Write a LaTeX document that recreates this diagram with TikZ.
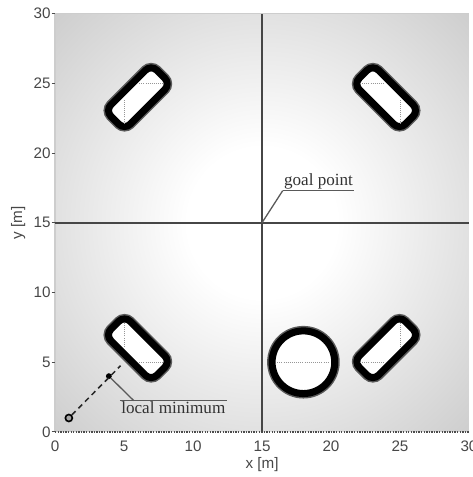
\documentclass[tikz,border=0pt]{standalone}
\usepackage{fontspec}
\setmainfont{Liberation Serif}
\setsansfont{Liberation Sans}
\usetikzlibrary{positioning, calc}
\definecolor{axisgray}{RGB}{70,70,70}
\definecolor{framegray}{RGB}{205,205,205}
\definecolor{dotgray}{RGB}{150,150,150}
\definecolor{haloblack}{RGB}{90,90,90}
\pgfdeclareradialshading{fieldshade}{\pgfpoint{0bp}{0bp}}{color(0bp)=(white); color(9bp)=(white); color(50bp)=(black!30); color(71bp)=(black!43)}

\begin{document}
\begin{tikzpicture}[
    x=0.414cm, y=0.4185cm,
    obstacle/.style={draw=black, line width=6pt, fill=white, inner sep=0pt,
        preaction={draw=haloblack, line width=8.5pt}},
    rectobst/.style={obstacle, rectangle, rounded corners=2.4mm, minimum width=1.95cm, minimum height=0.82cm},
    circobst/.style={obstacle, circle, minimum size=1.88cm},
    centerline/.style={densely dotted, dotgray, line width=0.8pt},
    crossline/.style={axisgray, line width=1.6pt},
    notelbl/.style={font=\fontsize{14.6}{16}\selectfont, text=black!80, inner sep=1pt},
    leader/.style={black!65, line width=1.1pt},
    ticklbl/.style={font=\sffamily\fontsize{13}{15}\selectfont, text=black!72, inner sep=0pt},
    trail/.style={black!85, line width=1.3pt, dash pattern=on 4.5pt off 3.5pt}
]
\useasboundingbox (-3.99,-3.23) rectangle (30.29,30.97);

% Potential field
\path[shading=fieldshade] (0,0) rectangle (30,30);

% Frame and ticks
\draw[framegray, line width=1pt] (0,30) -- (30,30);
\draw[framegray, line width=1pt] (0,0) -- (0,30);
\draw[black!70, line width=1.2pt, densely dotted] (0,0) -- (30,0);
\foreach \v in {0,5,...,30} {
    \draw[black!70, line width=0.8pt] (-0.25,\v) -- (0,\v);
    \node[ticklbl, anchor=east] at (-0.3,\v) {\v};
    \node[ticklbl, anchor=north] at (\v,-0.6) {\v};
}
\node (xlbl) [ticklbl] at (15,-2.37) {x [m]};
\node (ylbl) [ticklbl, rotate=90] at (-2.68,15) {y [m]};

% Goal cross
\coordinate (goal) at (15,15);
\draw[crossline] (15,0) -- (15,30);
\draw[crossline] (0,15) -- (30,15);

% Obstacles
\node (obsTL) [rectobst, rotate=45] at (6,24) {};
\node (obsTR) [rectobst, rotate=-45] at (24,24) {};
\node (obsBL) [rectobst, rotate=-45] at (6,6) {};
\node (obsBR) [rectobst, rotate=45] at (24,6) {};
\node (obsC) [circobst] at (18,5) {};

% Center lines
\draw[centerline] (5,22.1) -- (5,23.9);
\draw[centerline] (6.1,25) -- (7.9,25);
\draw[centerline] (22.1,25) -- (23.9,25);
\draw[centerline] (25,22.1) -- (25,23.9);
\draw[centerline] (5,6.1) -- (5,7.9);
\draw[centerline] (6.1,5) -- (7.9,5);
\draw[centerline] (25,6.1) -- (25,7.9);
\draw[centerline] (22.1,5) -- (23.9,5);
\draw[centerline] (16.1,5) -- (19.9,5);

% Robot trail
\node (start) [circle, draw=black, line width=1.4pt, minimum size=6pt, inner sep=0pt, fill=black!35] at (1,1) {};
\node (localmin) [circle, fill=black, minimum size=5pt, inner sep=0pt] at (3.9,4.0) {};
\coordinate (trailend) at (4.75,4.75);
\draw[trail] (start) -- (trailend);

% Labels
\node (goallbl) [notelbl, anchor=south west] at (16.5,17.3) {goal point};
\draw[leader] (goallbl.south west) -- (goallbl.south east);
\draw[leader] (goallbl.south west) -- (goal);

\node (locallbl) [notelbl, anchor=north west] at (4.7,2.25) {local minimum};
\coordinate (localknee) at ($(locallbl.north west)+(1,0)$);
\draw[leader] (locallbl.north west) -- (locallbl.north east);
\draw[leader] (localmin) -- (localknee);

\end{tikzpicture}
\end{document}
